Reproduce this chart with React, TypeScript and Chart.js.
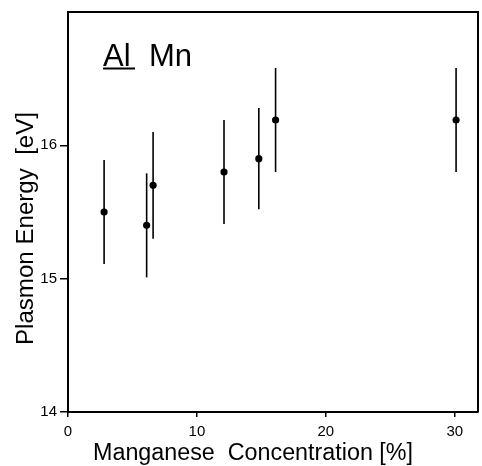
import React, { useEffect, useRef } from 'react';
import { Chart, registerables } from 'chart.js';

Chart.register(...registerables);

// ---- data ----
const concentration = [2.8, 6.1, 6.6, 12.1, 14.8, 16.1, 30.1];
const plasmonEnergy = [15.5, 15.4, 15.7, 15.8, 15.9, 16.19, 16.19];
const energyError = [0.39, 0.39, 0.4, 0.39, 0.38, 0.39, 0.39];
const xTicks = [0, 10, 20, 30];
const yTicks = [14, 15, 16];
const xRange = [0, 31.8];
const yRange = [14, 17];
const xTitle = 'Manganese  Concentration [%]';
const yTitle = 'Plasmon Energy  [eV]';
const labelMain = 'Al';
const labelSecond = 'Mn';

const TICK_FONT = { family: '"Liberation Sans", Arial, sans-serif', size: 15 };
const TITLE_FAMILY = '"Liberation Sans", Arial, sans-serif';

function fitText(ctx: CanvasRenderingContext2D, text: string, x: number, y: number, width: number) {
  const w = ctx.measureText(text).width;
  ctx.save();
  ctx.translate(x, y);
  ctx.scale(width / w, 1);
  ctx.textAlign = 'center';
  ctx.fillText(text, 0, 0);
  ctx.restore();
}

const decorPlugin = {
  id: 'decor',
  afterDraw(chart: any) {
    const { ctx, chartArea } = chart;
    ctx.save();
    ctx.strokeStyle = '#000';
    ctx.lineWidth = 2;
    ctx.beginPath();
    ctx.moveTo(chartArea.left, chartArea.top);
    ctx.lineTo(chartArea.right, chartArea.top);
    ctx.lineTo(chartArea.right, chartArea.bottom);
    ctx.stroke();

    ctx.fillStyle = '#000';
    ctx.textBaseline = 'alphabetic';

    // x title
    ctx.font = `23px ${TITLE_FAMILY}`;
    fitText(ctx, xTitle, 253, 460, 320);

    // y title (rotated)
    ctx.save();
    ctx.translate(33, 228.5);
    ctx.rotate(-Math.PI / 2);
    ctx.font = `23px ${TITLE_FAMILY}`;
    fitText(ctx, yTitle, 0, 0, 233);
    ctx.restore();

    // "Al Mn" label
    ctx.font = `31px ${TITLE_FAMILY}`;
    ctx.textAlign = 'left';
    ctx.fillText(labelMain, 103, 65.5);
    ctx.fillText(labelSecond, 149, 65.5);
    ctx.lineWidth = 2;
    ctx.beginPath();
    ctx.moveTo(103, 68.5);
    ctx.lineTo(135, 68.5);
    ctx.stroke();
    ctx.restore();
  },
};

export default function App() {
  const canvasRef = useRef<HTMLCanvasElement | null>(null);

  useEffect(() => {
    if (!canvasRef.current) return;
    const errorSets = concentration.map((x, i) => ({
      type: 'scatter' as const,
      data: [
        { x, y: plasmonEnergy[i] - energyError[i] },
        { x, y: plasmonEnergy[i] + energyError[i] },
      ],
      showLine: true,
      borderColor: '#000',
      borderWidth: 1.6,
      pointRadius: 0,
      order: 2,
    }));
    const points = {
      type: 'scatter' as const,
      data: concentration.map((x, i) => ({ x, y: plasmonEnergy[i] })),
      pointRadius: 3.6,
      pointBackgroundColor: '#000',
      pointBorderWidth: 0,
      order: 1,
    };

    const chart = new Chart(canvasRef.current, {
      type: 'scatter',
      data: { datasets: [...errorSets, points] as any },
      plugins: [decorPlugin],
      options: {
        animation: false,
        responsive: false,
        layout: { padding: { top: 12, right: 1, left: 0, bottom: 0 } },
        plugins: { legend: { display: false }, tooltip: { enabled: false } },
        scales: {
          x: {
            type: 'linear',
            min: xRange[0],
            max: xRange[1],
            afterBuildTicks: (s: any) => {
              s.ticks = xTicks.map((v) => ({ value: v }));
            },
            afterFit: (s: any) => {
              s.height = 54;
            },
            ticks: { font: TICK_FONT, color: '#000', padding: 6, maxRotation: 0, autoSkip: false },
            grid: { drawOnChartArea: false, tickLength: 5, color: '#000', lineWidth: 1.5 },
            border: { color: '#000', width: 2 },
          },
          y: {
            type: 'linear',
            min: yRange[0],
            max: yRange[1],
            afterBuildTicks: (s: any) => {
              s.ticks = yTicks.map((v) => ({ value: v }));
            },
            afterFit: (s: any) => {
              s.width = 68;
            },
            ticks: { font: TICK_FONT, color: '#000', padding: 3, autoSkip: false },
            grid: { drawOnChartArea: false, tickLength: 8, color: '#000', lineWidth: 1.5 },
            border: { color: '#000', width: 2 },
          },
        },
      },
    });
    return () => chart.destroy();
  }, []);

  return (
    <div style={{ position: 'fixed', left: 0, top: 0, width: 482, height: 466, background: '#fff' }}>
      <canvas ref={canvasRef} width={482} height={466} style={{ width: 482, height: 466, display: 'block' }} />
    </div>
  );
}
